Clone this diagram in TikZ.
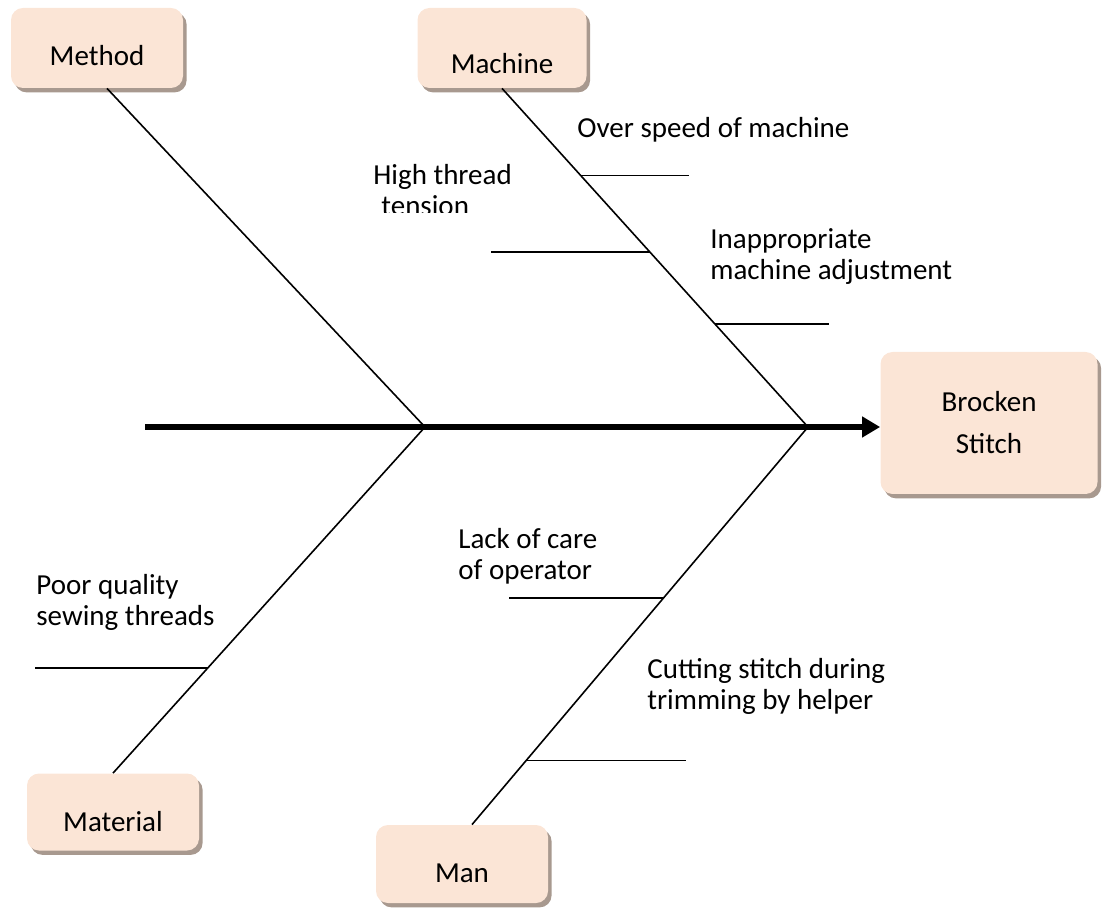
\documentclass[tikz,border=0pt]{standalone}
\usepackage{fontspec}
\setmainfont{Carlito}
\usetikzlibrary{arrows.meta,calc,shadows}
\definecolor{boxfill}{HTML}{FBE5D6}
\definecolor{boxshade}{HTML}{A8998F}
\tikzset{
  causebox/.style={fill=boxfill, rounded corners=6pt, minimum width=86pt, minimum height=40pt, inner sep=0pt,
    drop shadow={shadow xshift=1.8pt, shadow yshift=-2.2pt, fill=boxshade, opacity=1}},
  bone/.style={line width=0.8pt},
  spine/.style={line width=2.6pt, -{Triangle[length=9pt,width=10pt]}},
  cause/.style={anchor=west, inner sep=0pt, align=left, font=\fontsize{14.5}{15.5}\selectfont}
}
\newcommand{\dropby}[2]{\raisebox{-#1}[\height][\depth]{#2}}
\begin{document}
\begin{tikzpicture}[x=0.5pt, y=-0.5pt, font=\fontsize{14.5}{17}\selectfont]
  \useasboundingbox (0,0) rectangle (1102,908);
  % category boxes and effect
  \node[causebox] (method) at (97,48) {\dropby{4pt}{Method}};
  \node[causebox, minimum width=84.5pt] (machine) at (502,48) {\dropby{8pt}{Machine}};
  \node[causebox, minimum height=38.5pt] (material) at (113,812) {\dropby{5pt}{Material}};
  \node[causebox, minimum height=39pt] (man) at (462,864) {\dropby{4.5pt}{Man}};
  \node[causebox, minimum width=108.5pt, minimum height=71pt, align=center,
    font=\fontsize{14.5}{21}\selectfont] (effect) at (989,423) {Brocken\\Stitch};

  % spine and main bones
  \coordinate (tail) at (145,427);
  \coordinate (mid) at (425,427);
  \coordinate (head) at (808,427);
  \draw[spine] (tail) -- (tail -| effect.west);
  \draw[bone] ([xshift=5pt]method.south) -- (mid);
  \draw[bone] (machine.south) -- (head);
  \draw[bone] (mid) -- (material.north);
  \draw[bone] (head) -- ([xshift=5pt]man.north);

  % sub causes
  \coordinate (speed) at ($(machine.south)!0.257!(head)$);
  \coordinate (tension) at ($(machine.south)!0.484!(head)$);
  \coordinate (adjust) at ($(machine.south)!0.696!(head)$);
  \coordinate (care) at ($(head)!0.43!([xshift=5pt]man.north)$);
  \coordinate (helper) at ($(head)!0.839!([xshift=5pt]man.north)$);
  \coordinate (thread) at ($(mid)!0.697!(material.north)$);
  \draw[bone] (speed) -- ++(108,0);
  \draw[bone] (tension) -- ++(-159,0);
  \draw[bone] (adjust) -- ++(114,0);
  \draw[bone] (care) -- ++(-155,0);
  \draw[bone] (helper) -- ++(160,0);
  \draw[bone] (thread) -- ++(-173,0);

  \node[cause] (speedtxt) at (577,130) {Over speed of machine};
  \begin{scope}
    \clip (360,150) rectangle (530,213);
    \node[cause] (tensiontxt) at (373,190) {High thread\\\hspace{4pt}tension};
  \end{scope}
  \node[cause] (adjusttxt) at (710,257) {Inappropriate\\machine adjustment};
  \node[cause] (caretxt) at (458,556) {Lack of care\\of operator};
  \node[cause] (helpertxt) at (647,686) {Cutting stitch during\\trimming by helper};
  \node[cause] (threadtxt) at (36,602) {Poor quality\\sewing threads};
\end{tikzpicture}
\end{document}
